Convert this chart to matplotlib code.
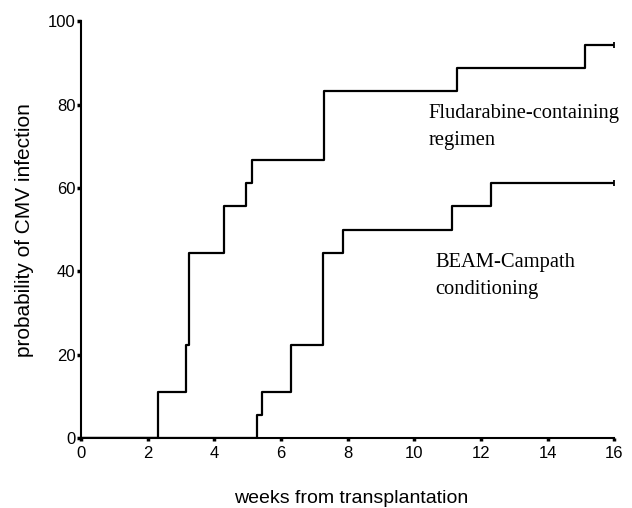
import matplotlib
matplotlib.use("Agg")
import matplotlib.pyplot as plt

# Data
flu_weeks = [0, 2.30, 3.14, 3.25, 4.29, 4.96, 5.14, 7.29, 11.28, 15.12, 16]
flu_prob = [0, 11.1, 22.2, 44.4, 55.6, 61.1, 66.7, 83.3, 88.9, 94.4, 94.4]
beam_weeks = [0, 5.29, 5.44, 6.29, 7.25, 7.86, 11.13, 12.30, 16]
beam_prob = [0, 5.6, 11.1, 22.2, 44.4, 50.0, 55.6, 61.1, 61.1]
x_ticks = [0, 2, 4, 6, 8, 10, 12, 14, 16]
y_ticks = [0, 20, 40, 60, 80, 100]

sans = ["Liberation Sans", "DejaVu Sans"]
serif = ["Liberation Serif", "DejaVu Serif"]
plt.rcParams["font.family"] = sans

W, H = 632, 508
fig = plt.figure(figsize=(W / 100, H / 100), dpi=100)
ax = fig.add_axes([0.128, 0.138, 0.844, 0.820])

ax.step(flu_weeks, flu_prob, where="post", color="black", lw=1.6)
ax.step(beam_weeks, beam_prob, where="post", color="black", lw=1.6)
ax.plot([flu_weeks[-1]], [flu_prob[-1]], marker="|", color="black", ms=5, mew=1.3)
ax.plot([beam_weeks[-1]], [beam_prob[-1]], marker="|", color="black", ms=5, mew=1.3)

ax.set_xlim(0, 16)
ax.set_ylim(0, 100)
ax.set_xticks(x_ticks)
ax.set_yticks(y_ticks)
for s in ["top", "right"]:
    ax.spines[s].set_visible(False)
for s in ["left", "bottom"]:
    ax.spines[s].set_linewidth(1.5)
ax.tick_params(axis="y", direction="out", length=3, width=2.5, pad=1, labelsize=12)
ax.tick_params(axis="x", direction="out", length=2, width=2.5, pad=4, labelsize=12)

fig.text(351 / W, 1 - 503 / H, "weeks from transplantation", fontsize=14,
         ha="center", va="baseline")
fig.text(25 / W, 1 - 230 / H, "probability of CMV infection", fontsize=15,
         ha="center", va="center", rotation=90)

ax.text(10.42, 76.7, "Fludarabine-containing", family=serif, fontsize=14.8,
        va="baseline", ha="left")
ax.text(10.42, 70.3, "regimen", family=serif, fontsize=14.8,
        va="baseline", ha="left")
ax.text(10.63, 41.1, "BEAM-Campath", family=serif, fontsize=14.8,
        va="baseline", ha="left")
ax.text(10.63, 34.5, "conditioning", family=serif, fontsize=14.8,
        va="baseline", ha="left")

fig.savefig("out.png", dpi=100)
